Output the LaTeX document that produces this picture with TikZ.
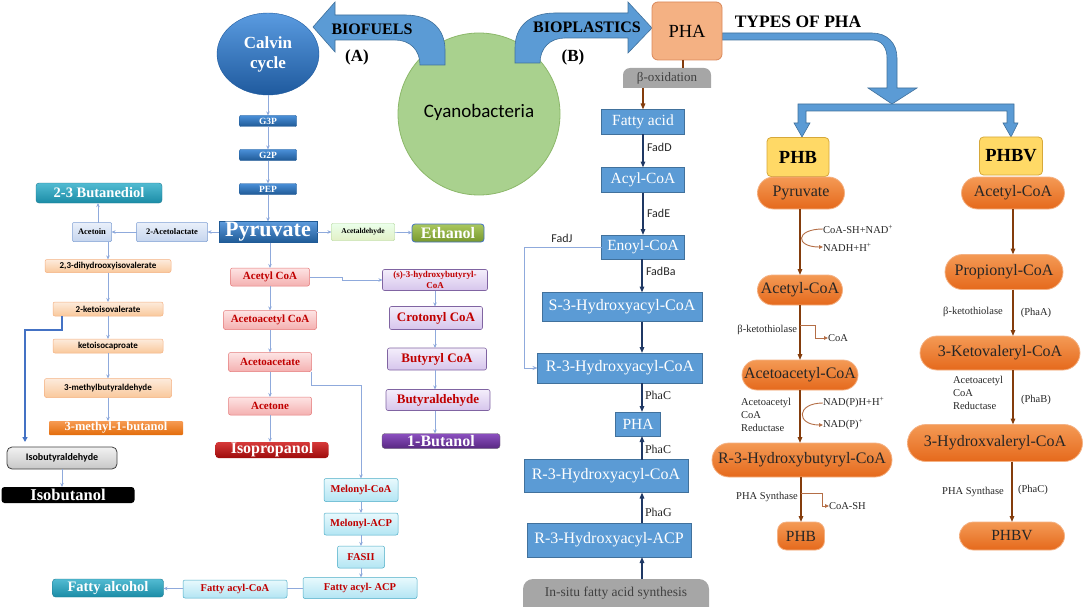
\documentclass[tikz,border=0pt]{standalone}
\usepackage{fontspec}
\setmainfont{Liberation Serif}
\newfontfamily\carl{Carlito}
\usetikzlibrary{arrows.meta,shapes.geometric,shapes.misc,backgrounds,calc}
\newcommand\fsz[2]{\fontsize{#1}{#2}\selectfont}
\definecolor{arrblue}{HTML}{8FAADC}
\definecolor{darrblue}{HTML}{4472C4}
\definecolor{midblue}{HTML}{5B9BD5}
\definecolor{midblueb}{HTML}{41719C}
\definecolor{navy}{HTML}{1F3864}
\definecolor{brn}{HTML}{843C0C}
\definecolor{lbrn}{HTML}{B46E46}
\definecolor{pgreen}{HTML}{A9D18E}
\definecolor{pgreenb}{HTML}{8CB86A}
\definecolor{phaor}{HTML}{F4B183}
\definecolor{phaorb}{HTML}{D9885A}
\definecolor{tabgrey}{HTML}{A6A6A6}
\definecolor{ylw}{HTML}{FFD966}
\definecolor{ylwb}{HTML}{D6A83A}
\definecolor{pillT}{HTML}{F49A55}
\definecolor{pillB}{HTML}{E5691C}
\definecolor{pillD}{HTML}{F4B183}
\definecolor{darkred}{HTML}{C00000}
\definecolor{gT}{HTML}{4A8FD8}
\definecolor{gB}{HTML}{1F5A96}
\definecolor{calT}{HTML}{5A9BE0}
\definecolor{calB}{HTML}{1F5A9E}
\definecolor{pinkT}{HTML}{FDE4E4}
\definecolor{pinkB}{HTML}{F4B0B0}
\definecolor{pinkD}{HTML}{E47B7B}
\definecolor{lavT}{HTML}{F4EEFB}
\definecolor{lavB}{HTML}{D6C5EC}
\definecolor{lavD}{HTML}{8064A2}
\definecolor{cyT}{HTML}{E8F9FD}
\definecolor{cyB}{HTML}{B3E5F3}
\definecolor{cyD}{HTML}{4BACC6}
\definecolor{orT}{HTML}{FDEBDC}
\definecolor{orB}{HTML}{F9C89B}
\definecolor{orD}{HTML}{F4B183}
\definecolor{lbT}{HTML}{EAF0FA}
\definecolor{lbB}{HTML}{C5D5EE}
\definecolor{lbD}{HTML}{7F9FD3}
\definecolor{tealT}{HTML}{52BBD2}
\definecolor{tealB}{HTML}{1B8CA6}
\definecolor{tealD}{HTML}{1D7A91}
\tikzset{
  every node/.style={inner sep=0pt, outer sep=0pt},
  larr/.style={draw=arrblue, line width=0.7pt, -{Stealth[length=4pt,width=3.5pt]}},
  dlarr/.style={draw=darrblue, line width=1.2pt, -{Triangle[length=5pt,width=5pt]}},
  narr/.style={draw=navy, line width=1.4pt, -{Triangle[length=6pt,width=4.5pt]}},
  barr/.style={draw=brn, line width=1.4pt, -{Triangle[length=6pt,width=4.5pt]}},
  lbarr/.style={draw=lbrn, line width=0.9pt, -{Triangle[length=4pt,width=3.5pt]}},
  fjarr/.style={draw=arrblue, line width=1pt, -{Stealth[length=5pt,width=4pt]}},
  bigshape/.style={fill=midblue, draw=midblueb, line width=0.6pt},
  gbox/.style={rectangle, rounded corners=1pt, top color=gT, bottom color=gB, draw=gB, text=white, font=\bfseries\fsz{9.5}{10}, minimum width=57pt, minimum height=11pt},
  pinkbox/.style={rectangle, rounded corners=2pt, top color=pinkT, bottom color=pinkB, draw=pinkD, line width=0.5pt, text=darkred, font=\bfseries\fsz{11}{13}},
  lavbox/.style={rectangle, rounded corners=2pt, top color=lavT, bottom color=lavB, draw=lavD, line width=0.6pt, text=darkred, font=\bfseries\fsz{13}{15}, align=center},
  cybox/.style={rectangle, rounded corners=2pt, top color=cyT, bottom color=cyB, draw=cyD, line width=0.5pt, text=darkred, font=\bfseries\fsz{10.5}{12}},
  orbox/.style={rectangle, rounded corners=2pt, top color=orT, bottom color=orB, draw=orD, line width=0.5pt, text=black, font=\carl\bfseries\fsz{9}{11}},
  lbbox/.style={rectangle, rounded corners=1pt, top color=lbT, bottom color=lbB, draw=lbD, line width=0.5pt, text=black, font=\bfseries\fsz{8.5}{10}},
  prod/.style={rectangle, rounded corners=3pt, text=white, font=\bfseries\fsz{16}{18}},
  midbox/.style={rectangle, fill=midblue, draw=midblueb, line width=0.6pt, text=white, font=\fsz{16}{18}},
  pillbox/.style={rounded rectangle, top color=pillT, bottom color=pillB, draw=pillD, line width=0.8pt, text=black!85, font=\fsz{16}{18}},
  ybox/.style={rectangle, rounded corners=4pt, fill=ylw, draw=ylwb, line width=0.8pt, text=black, font=\bfseries\fsz{18.5}{20}, minimum width=62pt, minimum height=39pt},
  lab/.style={font=\fsz{10.5}{13}, text=black!85},
  flab/.style={font=\carl\fsz{12}{14}, text=black!85},
  plab/.style={font=\fsz{12}{14}, text=black!85},
  tit/.style={font=\bfseries\fsz{16}{18}, text=black}
}
\begin{document}
\begin{tikzpicture}[x=1pt,y=-1pt]
\useasboundingbox (0,0) rectangle (1084,607);

% ---------- top ----------
\node[circle, fill=pgreen, draw=pgreenb, line width=0.8pt, minimum size=162pt, font=\carl\fsz{19}{22}] (cyano) at (479,114) {\raisebox{7pt}{Cyanobacteria}};
\filldraw[bigshape] (445,65) -- (445,50) .. controls (445,28) and (430,15) .. (405,15) -- (335,15) -- (335,2) -- (313,27) -- (335,52) -- (335,40) -- (395,40) .. controls (410,40) and (420,50) .. (420,65) -- cycle;
\filldraw[bigshape] (515,63) -- (515,48) .. controls (515,26) and (530,13) .. (555,13) -- (628,13) -- (628,2) -- (652,28) -- (628,53) -- (628,38) -- (565,38) .. controls (550,38) and (540,48) .. (540,63) -- cycle;
\node[tit] (biofuels) at (372,29) {BIOFUELS};
\node[tit, font=\bfseries\fsz{17}{18}] (labA) at (357,57) {(A)};
\node[tit] (bioplast) at (587,27) {BIOPLASTICS};
\node[tit, font=\bfseries\fsz{17}{18}] (labB) at (573,57) {(B)};

\node[ellipse, top color=calT, bottom color=calB, draw=calB, minimum width=102pt, minimum height=82pt, text=white, font=\bfseries\fsz{17}{20}, align=center] (calvin) at (268,54) {Calvin\\cycle};

% types of PHA arrow
\filldraw[bigshape] (722,33) -- (872,33) .. controls (887,33) and (897,43) .. (897,58) -- (897,88) -- (917,88) -- (892,104) -- (868,88) -- (887,88) -- (887,58) .. controls (887,48) and (882,40) .. (872,40) -- (722,40) -- cycle;
\filldraw[bigshape] (798,104) -- (1014,104) -- (1014,123) -- (1018,123) -- (1011,137) -- (1003,123) -- (1007,123) -- (1007,111) -- (806,111) -- (806,123) -- (810,123) -- (802,137) -- (794,123) -- (798,123) -- cycle;
\node[rectangle, rounded corners=6pt, fill=phaor, draw=phaorb, line width=0.8pt, minimum width=70pt, minimum height=58pt, font=\fsz{18.5}{20}] (pha) at (687,31) {PHA};
\node[tit, font=\bfseries\fsz{17.5}{19}] (types) at (798,22) {TYPES OF PHA};

% ---------- left: biofuels ----------
\node[gbox] (g3p) at (268,121) {G3P};
\node[gbox] (g2p) at (268,155) {G2P};
\node[gbox] (pep) at (268,189) {PEP};
\node[rectangle, top color=gT!90, bottom color=gB, draw=gB, text=white, font=\bfseries\fsz{22}{24}, minimum width=98pt, minimum height=21pt] (pyr) at (268,232) {Pyruvate};
\node[rectangle, rounded corners=1pt, top color=green!8!white, bottom color={rgb,255:red,226;green,240;blue,198}, draw=pgreen, font=\bfseries\fsz{7.5}{9}, minimum width=63pt, minimum height=17pt] (ald) at (363,232) {Acetaldehyde};
\node[prod, top color={rgb,255:red,170;green,200;blue,95}, bottom color={rgb,255:red,120;green,152;blue,45}, draw=darrblue, line width=0.8pt, minimum width=72pt, minimum height=18pt] (eth) at (448,233) {Ethanol};
\node[lbbox, minimum width=71pt, minimum height=19pt] (alac) at (172,232) {2-Acetolactate};
\node[lbbox, minimum width=39pt, minimum height=19pt] (acetoin) at (92,232) {Acetoin};
\node[prod, top color=tealT, bottom color=tealB, draw=tealD, font=\bfseries\fsz{14.5}{16}, minimum width=126pt, minimum height=20pt] (bdiol) at (99,193) {2-3 Butanediol};
\node[orbox, minimum width=126pt, minimum height=13pt] (dihydro) at (108,266) {2,3-dihydrooxyisovalerate};
\node[orbox, minimum width=110pt, minimum height=14pt] (kiv) at (108,309) {2-ketoisovalerate};
\node[orbox, minimum width=110pt, minimum height=14pt] (kic) at (108,346) {ketoisocaproate};
\node[orbox, minimum width=127pt, minimum height=19pt] (mbald) at (108,388) {3-methylbutyraldehyde};
\node[prod, rounded corners=1pt, top color={rgb,255:red,246;green,155;blue,84}, bottom color={rgb,255:red,227;green,108;blue,10}, font=\bfseries\fsz{12.5}{14}, minimum width=134pt, minimum height=14pt] (mbut) at (116,428) {3-methyl-1-butanol};
\node[rectangle, rounded corners=5pt, top color=white!95!black, bottom color=black!22, draw=black!75, line width=0.8pt, font=\carl\bfseries\fsz{10}{12}, minimum width=110pt, minimum height=22pt] (ibald) at (62,458) {Isobutyraldehyde};
\node[prod, fill=black, font=\bfseries\fsz{16.5}{18}, minimum width=133pt, minimum height=16pt] (ibut) at (68,495) {Isobutanol};

\draw[larr] (calvin) -- (g3p);
\draw[larr] (g3p) -- (g2p);
\draw[larr] (g2p) -- (pep);
\draw[larr] (pep) -- (pyr);
\draw[larr] (pyr) -- (ald);
\draw[larr] (ald) -- (eth);
\draw[larr] (pyr) -- (alac);
\draw[larr] (alac) -- (acetoin);
\draw[larr] ([xshift=6pt]acetoin.north) -- ([xshift=6pt]acetoin.north |- bdiol.south);
\draw[larr] (acetoin.south -| dihydro.north) -- (dihydro.north);
\draw[larr] (dihydro) -- (kiv);
\draw[larr] (kiv) -- (kic);
\draw[larr] (kic) -- (mbald);
\draw[larr] (mbald.south) -- (mbald.south |- mbut.north);
\coordinate (kvbend) at (25,330);
\draw[dlarr] ([xshift=-46pt]kiv.south) |- (kvbend) -- ([yshift=5pt]kvbend |- ibald.north);
\draw[larr] (ibald.south) -- (ibald.south |- ibut.north);

% pink column
\node[pinkbox, minimum width=79pt, minimum height=18pt] (acoa) at (270,277) {Acetyl CoA};
\node[pinkbox, minimum width=93pt, minimum height=19pt] (aacoa) at (270,320) {Acetoacetyl CoA};
\node[pinkbox, minimum width=83pt, minimum height=19pt] (aacet) at (270,362) {Acetoacetate};
\node[pinkbox, minimum width=83pt, minimum height=18pt] (acetone) at (270,406) {Acetone};
\node[prod, top color={rgb,255:red,214;green,58;blue,58}, bottom color={rgb,255:red,158;green,11;blue,11}, minimum width=113pt, minimum height=16pt] (isoprop) at (272,450) {Isopropanol};
\draw[larr] (acoa.north |- pyr.south) -- (acoa.north);
\draw[larr] (acoa) -- (aacoa);
\draw[larr] (aacoa) -- (aacet);
\draw[larr] (aacet) -- (acetone);
\draw[larr] (acetone.south) -- (acetone.south |- isoprop.north);

% lavender column
\node[lavbox, font=\bfseries\fsz{9}{11}, minimum width=105pt, minimum height=21pt] (shb) at (435,280) {(s)-3-hydroxybutyryl-\\CoA};
\node[lavbox, minimum width=93pt, minimum height=23pt] (crot) at (436,318) {Crotonyl CoA};
\node[lavbox, minimum width=99pt, minimum height=22pt] (buco) at (437,359) {Butyryl CoA};
\node[lavbox, minimum width=104pt, minimum height=21pt] (bald) at (438,400) {Butyraldehyde};
\node[prod, top color={rgb,255:red,140;green,80;blue,192}, bottom color={rgb,255:red,88;green,40;blue,130}, draw=black!60, minimum width=118pt, minimum height=15pt] (but) at (441,441) {1-Butanol};
\draw[larr] (acoa.east) -- ++(33,0) |- (shb.west);
\draw[larr] (shb.south) -- (shb.south |- crot.north);
\draw[larr] (crot.south -| shb.south) -- (buco.north -| shb.south);
\draw[larr] (buco.south -| shb.south) -- (bald.north -| shb.south);
\draw[larr] (bald.south -| shb.south) -- (but.north -| shb.south);

% fatty acid (cyan)
\node[cybox, minimum width=74pt, minimum height=23pt] (mcoa) at (361,490) {Melonyl-CoA};
\node[cybox, minimum width=74pt, minimum height=22pt] (macp) at (361,524) {Melonyl-ACP};
\node[cybox, minimum width=47pt, minimum height=22pt] (fas) at (361,557) {FASII};
\node[cybox, minimum width=114pt, minimum height=21pt] (facp) at (360,588) {Fatty acyl- ACP};
\node[cybox, minimum width=104pt, minimum height=18pt] (facoa) at (235,589) {Fatty acyl-CoA};
\node[prod, top color=tealT, bottom color=tealB, draw=tealD, font=\bfseries\fsz{14.5}{16}, minimum width=111pt, minimum height=18pt] (falc) at (108,588) {Fatty alcohol};
\draw[larr] (aacet.south east) -- ++(0,14) -| (mcoa.north);
\draw[larr] (mcoa) -- (macp);
\draw[larr] (macp) -- (fas);
\draw[larr] (fas.south) -- (fas.south |- facp.north);
\draw[draw=arrblue, line width=0.7pt] (facp.west) -- (facp.west -| facoa.east);
\draw[larr] (facoa) -- (falc);

% ---------- middle: PHA synthesis ----------
\node[minimum width=88pt, minimum height=20pt, font=\fsz{13}{14}, text=black!75] (betaox) at (667,78) {β-oxidation};
\node[minimum width=186pt, minimum height=28pt, font=\fsz{13.5}{15}, text=black!75] (insitu) at (616,593) {In-situ fatty acid synthesis};
\begin{scope}[on background layer]
\fill[tabgrey] (betaox.south west) [rounded corners=7pt] -- (betaox.north west) -- (betaox.north east) [sharp corners] -- (betaox.south east) -- cycle;
\fill[tabgrey] (insitu.south west) [rounded corners=10pt] -- (insitu.north west) -- (insitu.north east) [sharp corners] -- (insitu.south east) -- cycle;
\end{scope}
\draw[draw=brn, line width=1.2pt] ([xshift=-4pt]pha.south) -- ([xshift=-4pt]pha.south |- betaox.north);

\node[midbox, font=\fsz{15.5}{17}, minimum width=83pt, minimum height=25pt] (fa) at (643,122) {Fatty acid};
\node[midbox, font=\fsz{15.5}{17}, minimum width=83pt, minimum height=25pt] (acyl) at (643,180) {Acyl-CoA};
\node[midbox, font=\fsz{15.5}{17}, minimum width=83pt, minimum height=24pt] (enoyl) at (643,247) {Enoyl-CoA};
\node[midbox, minimum width=160pt, minimum height=29pt] (s3h) at (622,307) {S-3-Hydroxyacyl-CoA};
\node[midbox, minimum width=165pt, minimum height=30pt] (r3h) at (620,368) {R-3-Hydroxyacyl-CoA};
\node[midbox, font=\fsz{15.5}{17}, minimum width=45pt, minimum height=24pt] (phasm) at (638,424) {PHA};
\node[midbox, minimum width=164pt, minimum height=33pt] (r3h2) at (606,476) {R-3-Hydroxyacyl-CoA};
\node[midbox, minimum width=164pt, minimum height=34pt] (r3acp) at (609,540) {R-3-Hydroxyacyl-ACP};

\node[flab, anchor=west] (fadd) at (647,147) {FadD};
\node[flab, anchor=west] (fade) at (647,213) {FadE};
\node[flab, anchor=west] (fadba) at (646,271) {FadBa};
\node[flab] (fadj) at (562,238) {FadJ};
\node[plab, anchor=west] (phac1) at (645,395) {PhaC};
\node[plab, anchor=west] (phac2) at (645,449) {PhaC};
\node[plab, anchor=west] (phag) at (645,512) {PhaG};

\coordinate (colx) at (642,0);
\draw[barr] (betaox.south -| fa.north) -- (fa.north);
\draw[narr] (fa) -- (acyl);
\draw[narr] (acyl) -- (enoyl);
\draw[narr] (enoyl.south -| colx) -- (s3h.north -| colx);
\draw[narr] (s3h.south -| colx) -- (r3h.north -| colx);
\draw[narr] (r3h.south -| colx) -- (phasm.north -| colx);
\draw[narr] (r3h2.north -| colx) -- (phasm.south -| colx);
\draw[narr] (r3acp.north -| colx) -- (r3h2.south -| colx);
\draw[narr] (insitu.north -| colx) -- (r3acp.south -| colx);
\draw[fjarr] (enoyl.west) -- ++(-77,0) |- (r3h.west);

% ---------- right: types of PHA ----------
\node[ybox] (phb) at (798,157) {PHB};
\node[ybox, minimum width=63pt, minimum height=38pt] (phbv) at (1011,156) {PHBV};

\node[pillbox, minimum width=87pt, minimum height=32pt] (pyr2) at (801,193) {Pyruvate};
\node[pillbox, minimum width=85pt, minimum height=30pt] (acoa2) at (800,290) {Acetyl-CoA};
\node[pillbox, minimum width=116pt, minimum height=30pt] (aacoa2) at (800,375) {Acetoacetyl-CoA};
\node[pillbox, minimum width=180pt, minimum height=34pt] (r3hb) at (802,460) {R-3-Hydroxybutyryl-CoA};
\node[rectangle, rounded corners=9pt, top color=pillT, bottom color=pillB, draw=pillD, line width=0.8pt, text=black!85, font=\fsz{15.5}{17}, minimum width=47pt, minimum height=28pt] (phb2) at (801,536) {PHB};

\node[pillbox, minimum width=103pt, minimum height=32pt] (acoaR) at (1013,193) {Acetyl-CoA};
\node[pillbox, minimum width=118pt, minimum height=35pt] (prop) at (1004,272) {Propionyl-CoA};
\node[pillbox, minimum width=160pt, minimum height=34pt] (kval) at (1000,353) {3-Ketovaleryl-CoA};
\node[pillbox, minimum width=175pt, minimum height=37pt] (hval) at (995,443) {3-Hydroxvaleryl-CoA};
\node[pillbox, font=\fsz{15.5}{17}, minimum width=105pt, minimum height=28pt] (phbv2) at (1012,536) {PHBV};

\node[lab, anchor=west] (cosh) at (823,229) {CoA-SH+NAD\textsuperscript{+}};
\node[lab, anchor=west] (nadh) at (823,247) {NADH+H\textsuperscript{+}};
\node[lab, anchor=east] (thio1) at (797,330) {β-ketothiolase};
\node[lab, anchor=west] (coa1) at (828,338) {CoA};
\node[lab, anchor=north west, align=left] (red1) at (741,398) {Acetoacetyl\\CoA\\Reductase};
\node[lab, anchor=west] (nadph) at (823,403) {NAD(P)H+H\textsuperscript{+}};
\node[lab, anchor=west] (nadp) at (823,425) {NAD(P)\textsuperscript{+}};
\node[lab] (syn1) at (767,497) {PHA Synthase};
\node[lab, anchor=west] (coash) at (829,506) {CoA-SH};

\node[lab] (thio2) at (973,312) {β-ketothiolase};
\node[lab] (phaA) at (1036,313) {(PhaA)};
\node[lab, anchor=north west, align=left] (red2) at (953,376) {Acetoacetyl\\CoA\\Reductase};
\node[lab] (phaB) at (1036,400) {(PhaB)};
\node[lab] (syn2) at (973,492) {PHA Synthase};
\node[lab] (phaC3) at (1033,490) {(PhaC)};

\draw[barr] (pyr2.south -| acoa2.north) -- (acoa2.north);
\draw[lbarr] (cosh.west) .. controls (795,229) and (795,247) .. (nadh.west);
\draw[barr] (acoa2) -- (aacoa2);
\draw[lbarr] ($(acoa2.south)+(0,20)$) -- ++(15,0) |- (coa1.west);
\draw[barr] (aacoa2.south) -- (aacoa2.south |- r3hb.north);
\draw[lbarr] (nadph.west) .. controls (796,403) and (796,425) .. (nadp.west);
\draw[barr] (r3hb.south -| phb2.north) -- (phb2.north);
\draw[lbarr] ($(r3hb.south -| phb2.north)+(0,16)$) -- ++(21,0) |- (coash.west);

\draw[barr] (acoaR.south) -- (acoaR.south |- prop.north);
\draw[barr] (prop.south -| acoaR.south) -- (kval.north -| acoaR.south);
\draw[barr] (kval.south -| acoaR.south) -- (hval.north -| acoaR.south);
\draw[barr] (hval.south -| phbv2.north) -- (phbv2.north);
\end{tikzpicture}
\end{document}
